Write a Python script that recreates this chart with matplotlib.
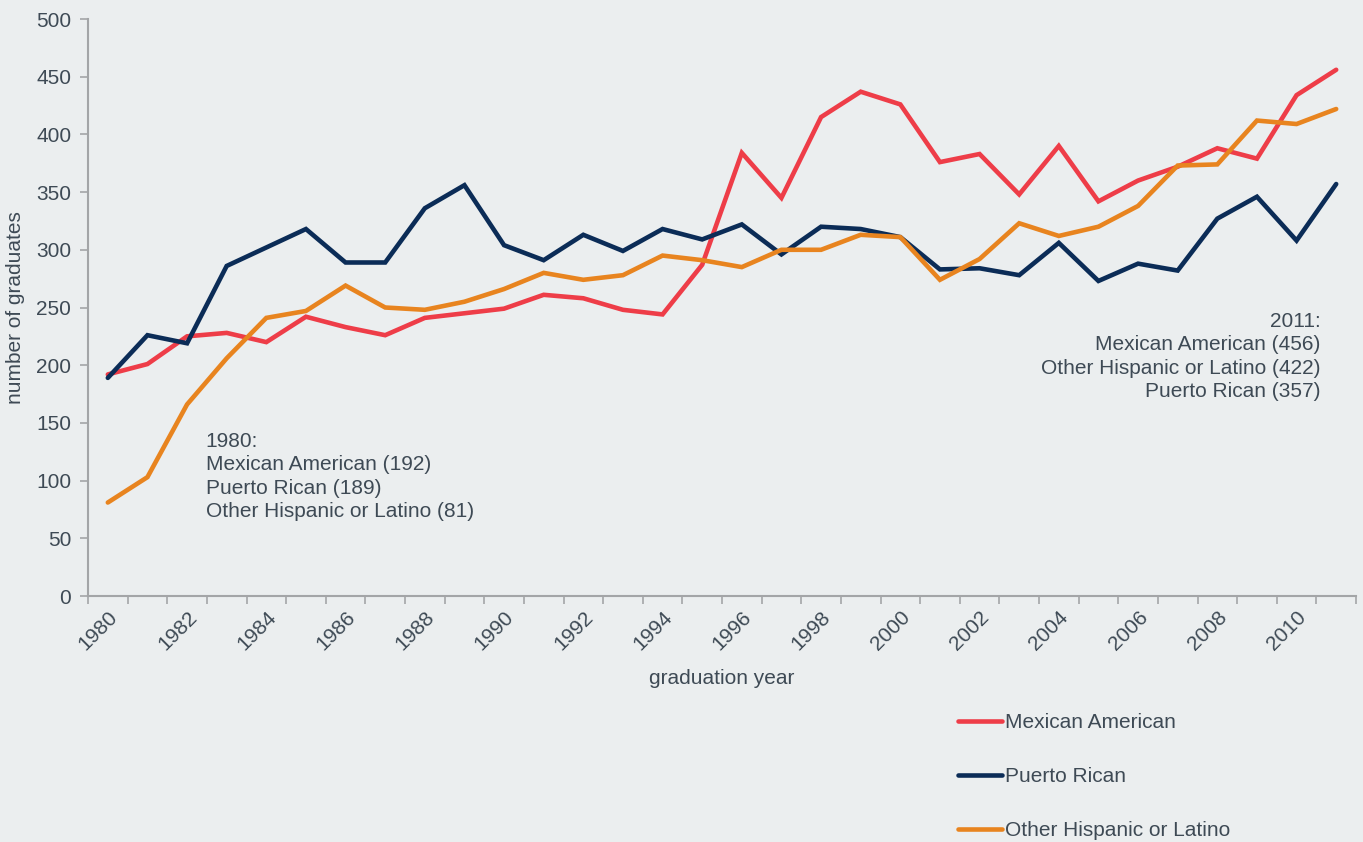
import numpy as np
import matplotlib.pyplot as plt

# =========================================================
# Data
# =========================================================

years = list(range(1980, 2012))

mexican_american = [192, 201, 225, 228, 220, 242, 233, 226, 241, 245,
                    249, 261, 258, 248, 244, 287, 384, 345, 415, 437,
                    426, 376, 383, 348, 390, 342, 360, 372, 388, 379,
                    434, 456]

puerto_rican = [189, 226, 219, 286, 302, 318, 289, 289, 336, 356,
                304, 291, 313, 299, 318, 309, 322, 296, 320, 318,
                311, 283, 284, 278, 306, 273, 288, 282, 327, 346,
                308, 357]

other_hispanic = [81, 103, 166, 206, 241, 247, 269, 250, 248, 255,
                  266, 280, 274, 278, 295, 291, 285, 300, 300, 313,
                  311, 274, 292, 323, 312, 320, 338, 373, 374, 412,
                  409, 422]

series_names = ["Mexican American", "Puerto Rican", "Other Hispanic or Latino"]
series_colors = ["#EE3D48", "#0B2C57", "#E8841F"]

# =========================================================
# Style
# =========================================================

BG = "#EBEEEF"
TEXT = "#3E4A55"
AXIS = "#A3A5A7"

plt.rcParams["font.family"] = ["Liberation Sans", "DejaVu Sans"]
plt.rcParams["font.size"] = 15

fig = plt.figure(figsize=(13.63, 8.42), dpi=100, facecolor=BG)
ax = fig.add_axes([88 / 1363, 1 - 596 / 842, (1356 - 88) / 1363, (596 - 19) / 842])
ax.set_facecolor(BG)

x = np.arange(len(years))
for vals, name, col in zip([mexican_american, puerto_rican, other_hispanic],
                           series_names, series_colors):
    ax.plot(x, vals, color=col, lw=3.3, label=name, solid_capstyle="round",
            solid_joinstyle="miter")

# axes
ax.set_xlim(-0.5, len(years) - 0.5)
ax.set_ylim(0, 500)
ax.set_yticks(range(0, 501, 50))

ax.set_xticks(x[::2])
ax.set_xticklabels([str(y) for y in years[::2]], rotation=45, ha="right",
                   va="top", rotation_mode="anchor", color=TEXT)
ax.set_xticks(np.arange(-0.5, len(years) + 0.5, 1), minor=True)
ax.tick_params(axis="x", which="major", length=0, pad=8)
ax.tick_params(axis="x", which="minor", length=6, color=AXIS, width=1.2)
ax.tick_params(axis="y", length=6, color=AXIS, width=1.2, labelcolor=TEXT, pad=6)

for side in ["top", "right"]:
    ax.spines[side].set_visible(False)
for side in ["left", "bottom"]:
    ax.spines[side].set_color(AXIS)
    ax.spines[side].set_linewidth(1.5)

ax.set_xlabel("graduation year", color=TEXT, labelpad=11)
ax.set_ylabel("number of graduates", color=TEXT, labelpad=8)

# annotations
ax.text(2.47, 142,
        "1980:\nMexican American (192)\nPuerto Rican (189)\nOther Hispanic or Latino (81)",
        ha="left", va="top", color=TEXT, linespacing=1.28)
ax.text(30.6, 246,
        "2011:\nMexican American (456)\nOther Hispanic or Latino (422)\nPuerto Rican (357)",
        ha="right", va="top", color=TEXT, linespacing=1.28, multialignment="right")

# legend
fig.legend(loc="upper left", bbox_to_anchor=(958 / 1363, 1 - 713 / 842),
           frameon=False, handlelength=2.1, handletextpad=0.15,
           labelspacing=1.68, borderpad=0, borderaxespad=0,
           labelcolor=TEXT)

plt.savefig("out.png", dpi=100, facecolor=BG)
